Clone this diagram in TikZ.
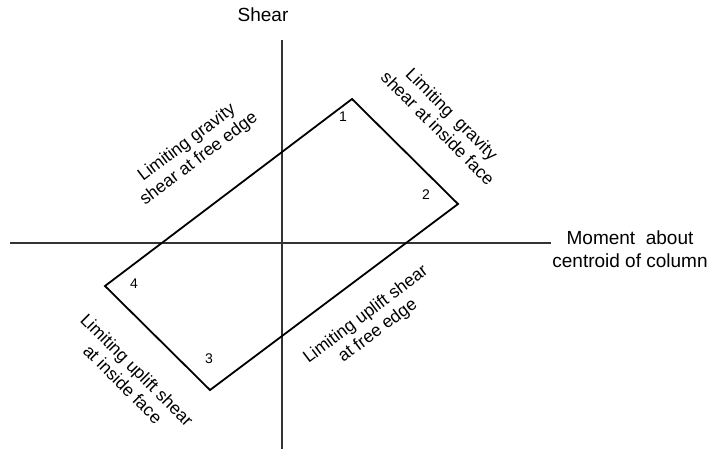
\documentclass[tikz,border=0pt]{standalone}
\usepackage{fontspec}
\setmainfont{Liberation Sans}
\begin{document}
\begin{tikzpicture}[x=1pt,y=-1pt,
  axis/.style={draw=black!80,line width=1.3pt},
  outline/.style={draw=black,line width=1.8pt,line join=miter},
  lbl/.style={font=\fontsize{19}{23}\selectfont,inner sep=0pt},
  rlbl/.style={font=\fontsize{17.5}{20}\selectfont,align=center,inner sep=0pt},
  num/.style={font=\fontsize{14}{16}\selectfont,inner sep=0pt}]
\useasboundingbox (0,0) rectangle (707,449);
% axes
\coordinate (vt) at (282,40);
\coordinate (vb) at (282,449);
\coordinate (hl) at (10,243);
\coordinate (hr) at (551,243);
\draw[axis] (vt) -- (vb);
\draw[axis] (hl) -- (hr);
% polygon
\coordinate (p1) at (352,99);
\coordinate (p2) at (458,204);
\coordinate (p3) at (210,390);
\coordinate (p4) at (105,286);
\draw[outline] (p1) -- (p2) -- (p3) -- (p4) -- cycle;
% axis labels
\node[lbl] (shear) at (263,15) {Shear};
\node[lbl,align=center] (moment) at (630,249) {Moment\ \ about\\centroid of column};
% numbers
\node[num] (n1) at (343,117) {1};
\node[num] (n2) at (426,195) {2};
\node[num] (n3) at (209,359) {3};
\node[num] (n4) at (134,284) {4};
% edge labels
\node[rlbl,rotate=37] (lgf) at (193,151) {Limiting gravity\\shear at free edge};
\node[rlbl,rotate=-45] (lgi) at (445,121) {Limiting\ \ gravity\\shear at inside face};
\node[rlbl,rotate=-45] (lui) at (130,377) {Limiting uplift shear\\at inside face};
\node[rlbl,rotate=37] (luf) at (372,323) {Limiting uplift shear\\at free edge};
\end{tikzpicture}
\end{document}
